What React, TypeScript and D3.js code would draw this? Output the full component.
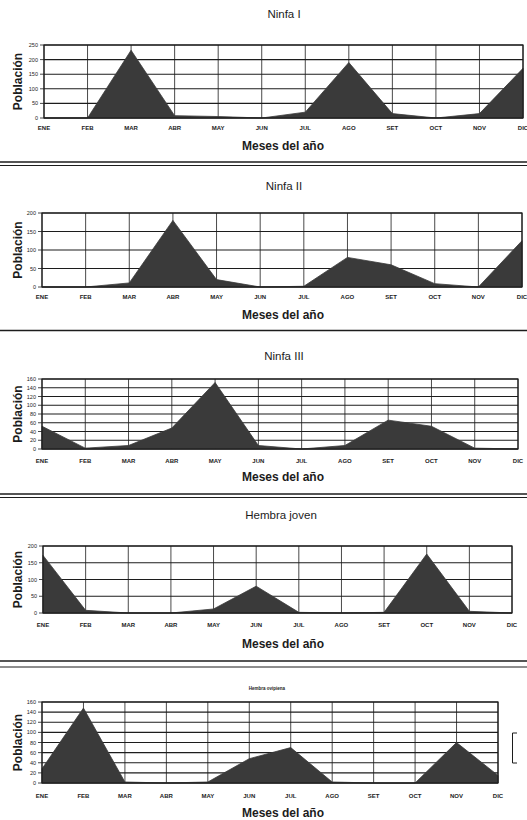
import React from 'react';
import * as d3 from 'd3';

const months = ['ENE', 'FEB', 'MAR', 'ABR', 'MAY', 'JUN', 'JUL', 'AGO', 'SET', 'OCT', 'NOV', 'DIC'];

const ninfaI = [0, 0, 232, 8, 5, 0, 20, 190, 15, 0, 15, 170];
const ninfaII = [0, 0, 11, 180, 20, 0, 2, 80, 60, 9, 0, 125];
const ninfaIII = [52, 2, 8, 48, 152, 8, 0, 8, 66, 52, 2, 0];
const hembraJoven = [172, 8, 0, 0, 12, 80, 2, 0, 2, 176, 5, 0];
const hembraOvipiena = [28, 148, 2, 0, 2, 48, 70, 2, 0, 0, 80, 15];

const titles = ['Ninfa I', 'Ninfa II', 'Ninfa III', 'Hembra joven', 'Hembra ovipiena'];
const series = [ninfaI, ninfaII, ninfaIII, hembraJoven, hembraOvipiena];
const yMax = [250, 200, 160, 200, 160];
const yStep = [50, 50, 20, 50, 20];

// panel geometry (pixels on the page)
const panels = [
  { x0: 44, x1: 523, top: 45, bottom: 118, titleY: 18, titleX: 284, titleSize: 11.5, labelY: 130, axisY: 150 },
  { x0: 42, x1: 522, top: 213, bottom: 287, titleY: 190, titleX: 284, titleSize: 11.5, labelY: 299, axisY: 319 },
  { x0: 42, x1: 518, top: 379, bottom: 449, titleY: 360, titleX: 284, titleSize: 11.5, labelY: 463, axisY: 481 },
  { x0: 43, x1: 512, top: 546, bottom: 613, titleY: 519, titleX: 281, titleSize: 11.5, labelY: 627, axisY: 648 },
  { x0: 42, x1: 498, top: 702, bottom: 783, titleY: 690, titleX: 267, titleSize: 4.5, labelY: 798, axisY: 817 },
];

const separators = [
  [162, 165.5],
  [330.5],
  [494, 497.5],
  [661, 667],
];

const ink = '#1c1c1c';
const fillCol = '#3a3a3a';

function Panel({ idx }: { idx: number }) {
  const p = panels[idx];
  const data = series[idx];
  const x = d3.scalePoint<string>().domain(months).range([p.x0, p.x1]);
  const y = d3.scaleLinear().domain([0, yMax[idx]]).range([p.bottom, p.top]);
  const ticks = d3.range(0, yMax[idx] + 1, yStep[idx]);
  const area = d3
    .area<number>()
    .x((_, i) => x(months[i]) as number)
    .y0(p.bottom)
    .y1((d) => y(d));
  const midY = (p.top + p.bottom) / 2;
  return (
    <g>
      <text x={p.titleX} y={p.titleY} textAnchor="middle" fontSize={p.titleSize} fill={ink}
        fontWeight={idx === 4 ? 'bold' : 'normal'}>
        {titles[idx]}
      </text>
      <rect x={p.x0} y={p.top} width={p.x1 - p.x0} height={p.bottom - p.top} fill="#fff" />
      {ticks.map((t) => (
        <g key={'h' + t}>
          <line x1={p.x0} x2={p.x1} y1={y(t)} y2={y(t)} stroke={ink} strokeWidth={1.1} />
          <line x1={p.x0 - 4} x2={p.x0} y1={y(t)} y2={y(t)} stroke={ink} strokeWidth={0.8} />
          <text x={p.x0 - 6} y={y(t) + 2} textAnchor="end" fontSize={5.5} fill={ink}>{t}</text>
        </g>
      ))}
      {months.map((m) => (
        <g key={'v' + m}>
          <line x1={x(m)} x2={x(m)} y1={p.top} y2={p.bottom} stroke={ink} strokeWidth={0.8} />
          <text x={x(m)} y={p.labelY} textAnchor="middle" fontSize={6} fontWeight="bold" fill={ink}>{m}</text>
        </g>
      ))}
      <path d={area(data) || ''} fill={fillCol} stroke={fillCol} strokeWidth={0.8} />
      <rect x={p.x0} y={p.top} width={p.x1 - p.x0} height={p.bottom - p.top} fill="none" stroke={ink} strokeWidth={1.2} />
      <text transform={`translate(22,${midY}) rotate(-90)`} textAnchor="middle" fontSize={12} fontWeight="bold" fill={ink}>
        Población
      </text>
      <text x={283} y={p.axisY} textAnchor="middle" fontSize={12} fontWeight="bold" fill={ink}>
        Meses del año
      </text>
    </g>
  );
}

export default function App() {
  return (
    <div style={{ position: 'absolute', left: 0, top: 0 }}>
      <svg width={527} height={820} style={{ display: 'block', background: '#fff', fontFamily: 'Arial, "Liberation Sans", sans-serif' }}>
        {panels.map((_, i) => (
          <Panel key={i} idx={i} />
        ))}
        {separators.map((ys, i) =>
          ys.map((yy, j) => (
            <line key={`s${i}-${j}`} x1={0} x2={527} y1={yy} y2={yy} stroke={ink} strokeWidth={j === 0 ? 1.6 : 1} />
          ))
        )}
        <path d="M517,733 H512.5 V763 H517" fill="none" stroke={ink} strokeWidth={1} />
      </svg>
    </div>
  );
}
